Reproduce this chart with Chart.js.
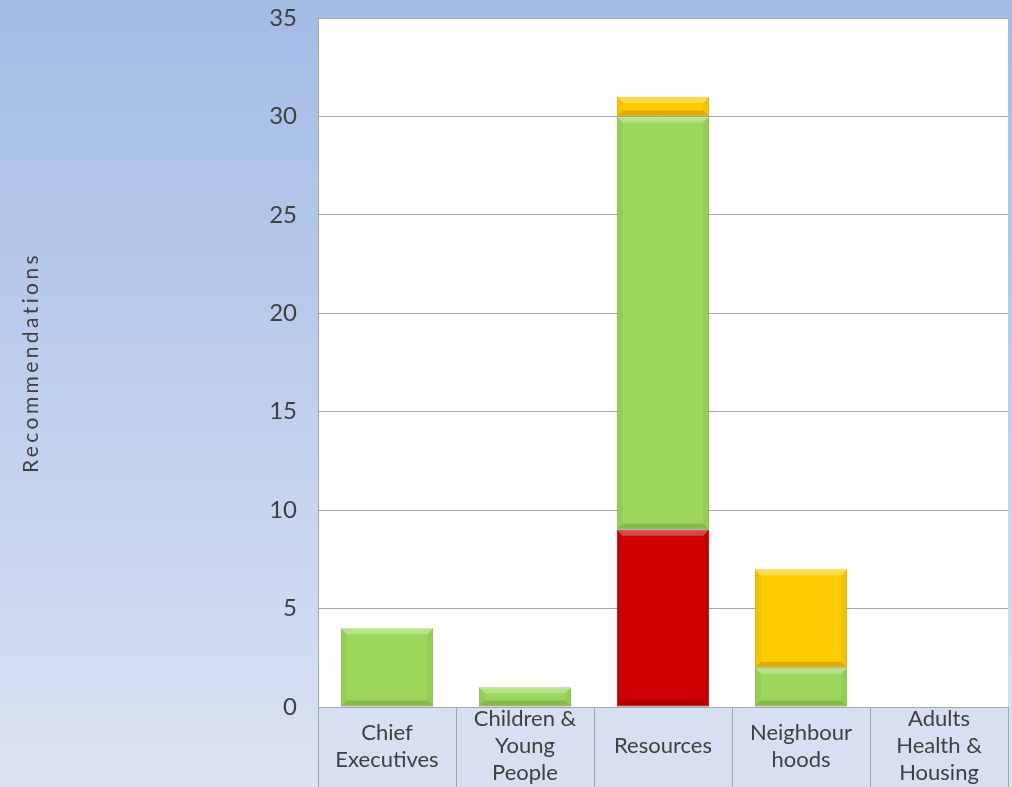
<!DOCTYPE html>
<html>
<head>
<meta charset="utf-8">
<script src="https://cdn.jsdelivr.net/npm/chart.js@4"></script>
<style>
  html, body { margin: 0; padding: 0; background: #ffffff; }
  #wrap { width: 1012px; height: 787px; }
</style>
</head>
<body>
<div id="wrap"><canvas id="myChart" width="1012" height="787"></canvas></div>
<script>
// recommendations per directorate, stacked by status
const categories = [
  ['Chief', 'Executives'],
  ['Children &', 'Young', 'People'],
  'Resources',
  ['Neighbour', 'hoods'],
  ['Adults', 'Health &', 'Housing']
];
const redValues = [0, 0, 9, 0, 0];
const greenValues = [4, 1, 21, 2, 0];
const yellowValues = [0, 0, 1, 5, 0];
const yTicks = [0, 5, 10, 15, 20, 25, 30, 35];
const yTitleText = 'Recommendations';

const FONT = 'Lato, "DejaVu Sans", sans-serif';
const TEXT = '#404040';
const GRID = '#a6a6a6';

// page background, white plot area and the shaded category band
const backdrop = {
  id: 'backdrop',
  beforeDraw(chart) {
    const { ctx, chartArea: a, width, height } = chart;
    const x = chart.scales.x;
    ctx.save();
    const g = ctx.createLinearGradient(0, 0, 0, height);
    g.addColorStop(0, '#a3bbe5');
    g.addColorStop(1, '#dae3f3');
    ctx.fillStyle = g;
    ctx.fillRect(0, 0, width, height);

    ctx.fillStyle = '#ffffff';
    ctx.fillRect(a.left, a.top, a.right - a.left, a.bottom - a.top);

    ctx.fillStyle = '#d6e0f2';
    ctx.fillRect(a.left, a.bottom, a.right - a.left, height - a.bottom);

    ctx.strokeStyle = GRID;
    ctx.lineWidth = 1;
    const n = categories.length;
    const edges = [a.left];
    for (let i = 0; i < n - 1; i++) {
      edges.push((x.getPixelForValue(i) + x.getPixelForValue(i + 1)) / 2);
    }
    edges.push(a.right);
    edges.forEach(e => {
      const px = Math.round(e) + 0.5;
      ctx.beginPath();
      ctx.moveTo(px, a.bottom);
      ctx.lineTo(px, height);
      ctx.stroke();
    });
    ctx.restore();
  }
};

// bevelled edges on each bar segment
const bevel = {
  id: 'bevel',
  afterDatasetsDraw(chart) {
    const { ctx } = chart;
    ctx.save();
    chart.data.datasets.forEach((ds, di) => {
      const meta = chart.getDatasetMeta(di);
      meta.data.forEach(bar => {
        const top = Math.min(bar.y, bar.base);
        const bottom = Math.max(bar.y, bar.base);
        const h = bottom - top;
        if (h < 1) return;
        const l = bar.x - bar.width / 2;
        const r = bar.x + bar.width / 2;
        const b = Math.min(6, h / 2);
        ctx.fillStyle = 'rgba(255,255,255,0.28)';
        ctx.beginPath();
        ctx.moveTo(l, top); ctx.lineTo(r, top); ctx.lineTo(r - b, top + b); ctx.lineTo(l + b, top + b);
        ctx.closePath(); ctx.fill();
        ctx.fillStyle = 'rgba(0,0,0,0.14)';
        ctx.beginPath();
        ctx.moveTo(l, bottom); ctx.lineTo(r, bottom); ctx.lineTo(r - b, bottom - b); ctx.lineTo(l + b, bottom - b);
        ctx.closePath(); ctx.fill();
        ctx.fillStyle = 'rgba(0,0,0,0.05)';
        ctx.beginPath();
        ctx.moveTo(l, top); ctx.lineTo(l + b, top + b); ctx.lineTo(l + b, bottom - b); ctx.lineTo(l, bottom);
        ctx.closePath(); ctx.fill();
        ctx.beginPath();
        ctx.moveTo(r, top); ctx.lineTo(r - b, top + b); ctx.lineTo(r - b, bottom - b); ctx.lineTo(r, bottom);
        ctx.closePath(); ctx.fill();
      });
    });
    ctx.restore();
  }
};

// y axis title, centred on the plot height, letter-spaced
const yTitle = {
  id: 'yTitle',
  afterDraw(chart) {
    const { ctx, chartArea: a } = chart;
    ctx.save();
    ctx.translate(31, (a.top + a.bottom) / 2);
    ctx.rotate(-Math.PI / 2);
    ctx.font = '21px ' + FONT;
    ctx.letterSpacing = '3.4px';
    ctx.fillStyle = TEXT;
    ctx.textAlign = 'center';
    ctx.textBaseline = 'middle';
    ctx.fillText(yTitleText, 0, 0);
    ctx.restore();
  }
};

const makeSet = (label, data, color, border) => ({
  label: label,
  data: data,
  backgroundColor: color,
  borderColor: border,
  borderWidth: 1,
  borderSkipped: false,
  barPercentage: 0.67,
  categoryPercentage: 1.0
});

const ctx = document.getElementById('myChart');
new Chart(ctx, {
  type: 'bar',
  data: {
    labels: categories,
    datasets: [
      makeSet('Red', redValues, '#cc0000', '#a00000'),
      makeSet('Green', greenValues, '#9cd75b', '#86b84d'),
      makeSet('Amber', yellowValues, '#ffcc00', '#e0ac00')
    ]
  },
  options: {
    responsive: false,
    animation: false,
    layout: { padding: { top: 18, right: 4, left: 0, bottom: 0 } },
    plugins: {
      legend: { display: false },
      tooltip: { enabled: false }
    },
    scales: {
      x: {
        stacked: true,
        afterFit(scale) {
          scale.height = 80;
          scale.paddingLeft = 0;
          scale.paddingRight = 0;
        },
        grid: { display: false },
        border: { display: true, color: GRID },
        ticks: {
          color: TEXT,
          font: { family: FONT, size: 22, lineHeight: 1.23 },
          padding: 4,
          maxRotation: 0,
          autoSkip: false,
          crossAlign: 'center'
        }
      },
      y: {
        stacked: true,
        min: 0,
        max: 35,
        afterFit(scale) {
          scale.width = 318;
          scale.paddingTop = 0;
          scale.paddingBottom = 0;
        },
        afterBuildTicks(scale) { scale.ticks = yTicks.map(v => ({ value: v })); },
        grid: { color: GRID, drawTicks: false },
        border: { display: true, color: GRID },
        ticks: {
          color: TEXT,
          font: { family: FONT, size: 24 },
          padding: 21
        }
      }
    }
  },
  plugins: [backdrop, bevel, yTitle]
});
</script>
</body>
</html>
